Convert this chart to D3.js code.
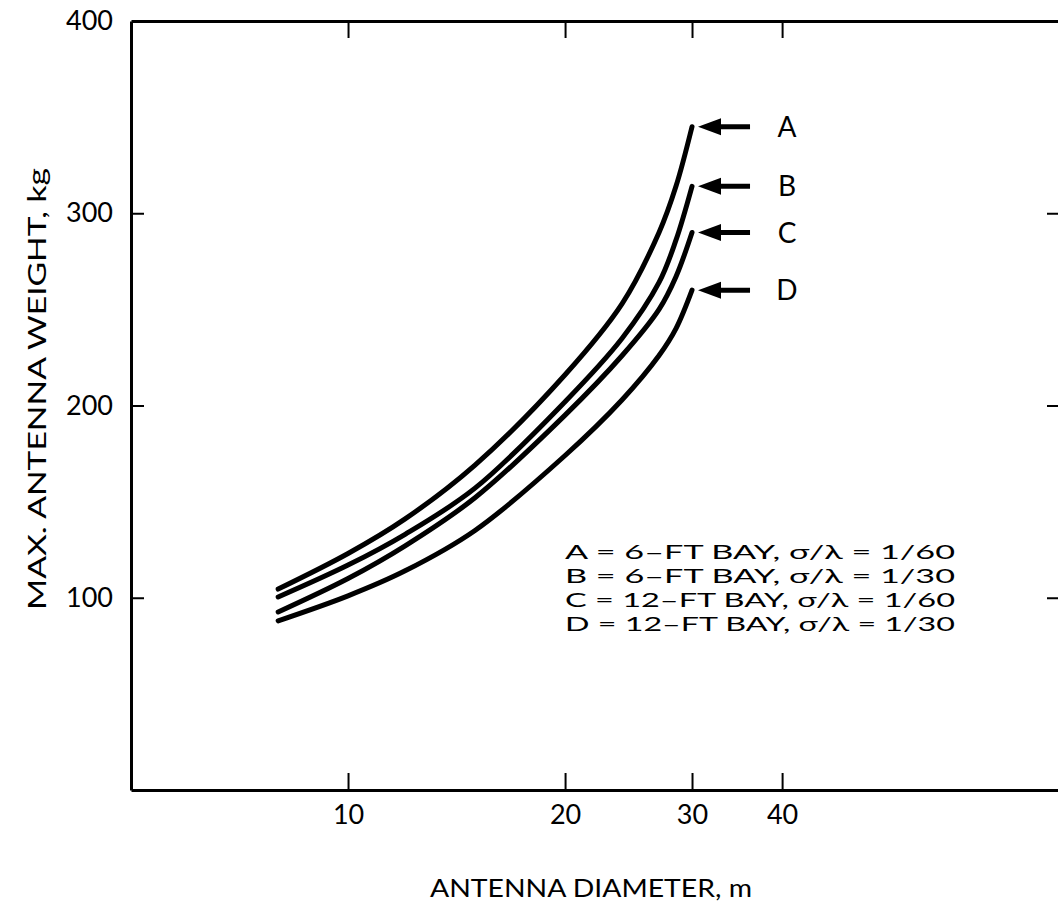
<!DOCTYPE html>
<html>
<head>
<meta charset="utf-8">
<script src="https://cdn.jsdelivr.net/npm/d3@7"></script>
<style>
  html, body { margin: 0; padding: 0; background: #fff; }
  svg { display: block; }
  text { font-family: Lato, "DejaVu Sans", sans-serif; fill: #000; }
</style>
</head>
<body>
<svg id="chart" width="1058" height="915"></svg>
<script>
// Antenna diameter (m) at which each curve is sampled
const diameters = [8, 10, 12, 15, 20, 24, 27, 28.5, 30];

// Maximum antenna weight (kg) for each bay / surface-tolerance case
const weightA = [104.5, 123, 141, 169, 216, 253, 290, 314, 345];
const weightB = [100.4, 117, 133, 157, 202, 235, 264, 286, 314];
const weightC = [92.6, 110, 127, 152, 195, 226, 250, 267, 290];
const weightD = [88, 101, 114, 135, 174, 203, 226, 240, 260];

const seriesKeys = ["A", "B", "C", "D"];
const legendLines = [
  "A = 6\u2013FT BAY,  \u03C3/\u03BB = 1/60",
  "B = 6\u2013FT BAY,  \u03C3/\u03BB = 1/30",
  "C = 12\u2013FT BAY,  \u03C3/\u03BB = 1/60",
  "D = 12\u2013FT BAY,  \u03C3/\u03BB = 1/30"
];

const xTicks = [10, 20, 30, 40];
const yTicks = [100, 200, 300, 400];
const xDomain = [5, 100];
const yDomain = [0, 400];

const series = [weightA, weightB, weightC, weightD].map((vals, i) => ({
  key: seriesKeys[i],
  points: diameters.map((d, j) => ({ d, w: vals[j] }))
}));

const svg = d3.select("#chart");
const plot = { left: 131, right: 1069, top: 21, bottom: 790 };

const x = d3.scaleLog().domain(xDomain).range([plot.left, plot.right]);
const y = d3.scaleLinear().domain(yDomain).range([plot.bottom, plot.top]);

const axisStroke = 3;

// Frame axes with inward ticks
const gBottom = svg.append("g").attr("transform", `translate(0,${plot.bottom})`)
  .call(d3.axisBottom(x).tickValues(xTicks).tickFormat(d3.format("d"))
    .tickSizeInner(-17).tickSizeOuter(0).tickPadding(15));
const gTop = svg.append("g").attr("transform", `translate(0,${plot.top})`)
  .call(d3.axisTop(x).tickValues(xTicks).tickFormat("")
    .tickSizeInner(-17).tickSizeOuter(0));
const gLeft = svg.append("g").attr("transform", `translate(${plot.left},0)`)
  .call(d3.axisLeft(y).tickValues(yTicks).tickFormat(d3.format("d"))
    .tickSizeInner(-13).tickSizeOuter(0).tickPadding(18));
const gRight = svg.append("g").attr("transform", `translate(${plot.right},0)`)
  .call(d3.axisRight(y).tickValues(yTicks.slice(0, 3)).tickFormat("")
    .tickSizeInner(-22).tickSizeOuter(0));

[gBottom, gTop, gLeft, gRight].forEach(g => {
  g.select(".domain").attr("stroke", "#000").attr("stroke-width", axisStroke);
  g.selectAll(".tick line").attr("stroke", "#000").attr("stroke-width", 2);
  g.selectAll(".tick text").attr("font-size", 27).attr("fill", "#000")
    .attr("font-family", "Lato, 'DejaVu Sans', sans-serif");
});
// the 400 label sits level with the top frame line
gLeft.selectAll(".tick").filter(d => d === 400).select("line").remove();

// Axis titles
svg.append("text")
  .attr("x", 591).attr("y", 897)
  .attr("text-anchor", "middle")
  .attr("font-size", 25)
  .attr("textLength", 322).attr("lengthAdjust", "spacingAndGlyphs")
  .text("ANTENNA DIAMETER, m");

svg.append("text")
  .attr("transform", `translate(46,389) rotate(-90)`)
  .attr("text-anchor", "middle")
  .attr("font-size", 25)
  .attr("textLength", 442).attr("lengthAdjust", "spacingAndGlyphs")
  .text("MAX. ANTENNA WEIGHT, kg");

// Curves
const line = d3.line()
  .x(p => x(p.d))
  .y(p => y(p.w))
  .curve(d3.curveCatmullRom.alpha(0.5));

svg.append("g").selectAll("path")
  .data(series)
  .join("path")
  .attr("d", s => line(s.points))
  .attr("fill", "none")
  .attr("stroke", "#000")
  .attr("stroke-width", 5)
  .attr("stroke-linecap", "round");

// Pointer arrows and curve letters at the end of each curve
const ends = svg.append("g").selectAll("g")
  .data(series)
  .join("g")
  .attr("transform", s => {
    const last = s.points[s.points.length - 1];
    return `translate(${x(last.d) + 6},${y(last.w)})`;
  });

ends.append("path")
  .attr("d", "M0,0 L23,-8.5 L23,8.5 Z")
  .attr("fill", "#000");
ends.append("line")
  .attr("x1", 20).attr("x2", 52)
  .attr("y1", 0).attr("y2", 0)
  .attr("stroke", "#000").attr("stroke-width", 5);
ends.append("text")
  .attr("x", 89).attr("y", 0).attr("dy", "0.36em")
  .attr("text-anchor", "middle")
  .attr("font-size", 28)
  .text(s => s.key);

// Legend block
svg.append("g").selectAll("text")
  .data(legendLines)
  .join("text")
  .attr("x", 565)
  .attr("y", (d, i) => 559 + i * 24)
  .attr("font-size", 20)
  .attr("textLength", 390).attr("lengthAdjust", "spacingAndGlyphs")
  .text(d => d);
</script>
</body>
</html>
